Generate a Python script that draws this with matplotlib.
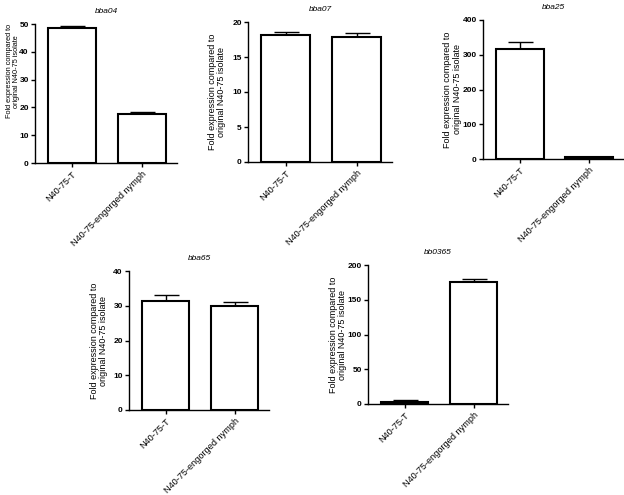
import numpy as np
import matplotlib
matplotlib.use("Agg")
import matplotlib.pyplot as plt

plt.rcParams['font.family'] = ['Liberation Sans', 'DejaVu Sans']

# data
groups = ['N40-75-T', 'N40-75-engorged nymph']
genes = ['bba04', 'bba07', 'bba25', 'bba65', 'bb0365']
bba04_mean = [48.5, 17.6]
bba04_err = [0.7, 0.6]
bba07_mean = [18.2, 17.8]
bba07_err = [0.4, 0.6]
bba25_mean = [317, 6]
bba25_err = [21, 1]
bba65_mean = [31.3, 30.0]
bba65_err = [1.8, 1.1]
bb0365_mean = [3.3, 175]
bb0365_err = [2.0, 5.5]
ymax = [50, 20, 400, 40, 200]
ystep = [10, 5, 100, 10, 50]

means = [bba04_mean, bba07_mean, bba25_mean, bba65_mean, bb0365_mean]
errs = [bba04_err, bba07_err, bba25_err, bba65_err, bb0365_err]

# axes boxes in pixels: left, right, top, bottom
W, H = 624, 495
boxes = [(35, 177, 24, 163), (248, 392, 22, 162), (483, 624, 20, 159),
         (129, 269, 271, 410), (368, 508, 265, 404)]
# first panel has a smaller, raised y label
ylab_size = [5.3, 6.5, 6.5, 6.5, 6.5]
ylab_pos = [(-0.105, 0.66), (-0.15, 0.5), (-0.15, 0.5), (-0.15, 0.5), (-0.15, 0.5)]

fig = plt.figure(figsize=(6.24, 4.95), dpi=100)

for i in range(5):
	l, r, t, b = boxes[i]
	ax = fig.add_axes([l / W, (H - b) / H, (r - l) / W, (b - t) / H])
	x = np.arange(len(groups))
	ax.bar(x, means[i], width=0.69, color='white', edgecolor='black', linewidth=1.5, zorder=2)
	ax.errorbar(x, means[i], yerr=[[0, 0], errs[i]], fmt='none', ecolor='black',
				elinewidth=1.0, capsize=9, capthick=1.0, zorder=1)
	ax.set_xlim(-0.53, 1.5)
	ax.set_ylim(0, ymax[i])
	ax.set_yticks(np.arange(0, ymax[i] + 1, ystep[i]))
	ax.set_xticks(x)
	ax.set_xticklabels(groups, rotation=45, ha='right', rotation_mode='anchor', fontsize=6.6)
	for lab in ax.get_yticklabels():
		lab.set_fontsize(6)
		lab.set_fontweight('bold')
	ax.spines['top'].set_visible(False)
	ax.spines['right'].set_visible(False)
	ax.spines['left'].set_linewidth(1.0)
	ax.spines['bottom'].set_linewidth(1.0)
	ax.tick_params(axis='both', length=3, width=1.0, pad=1.5)
	ax.set_ylabel("Fold expression compared to\noriginal N40-75 isolate", fontsize=ylab_size[i],
				  linespacing=1.05)
	ax.yaxis.set_label_coords(*ylab_pos[i])
	ax.set_title(genes[i], fontsize=6, style='italic', pad=8)

plt.savefig("out.png", dpi=100)
plt.close()
